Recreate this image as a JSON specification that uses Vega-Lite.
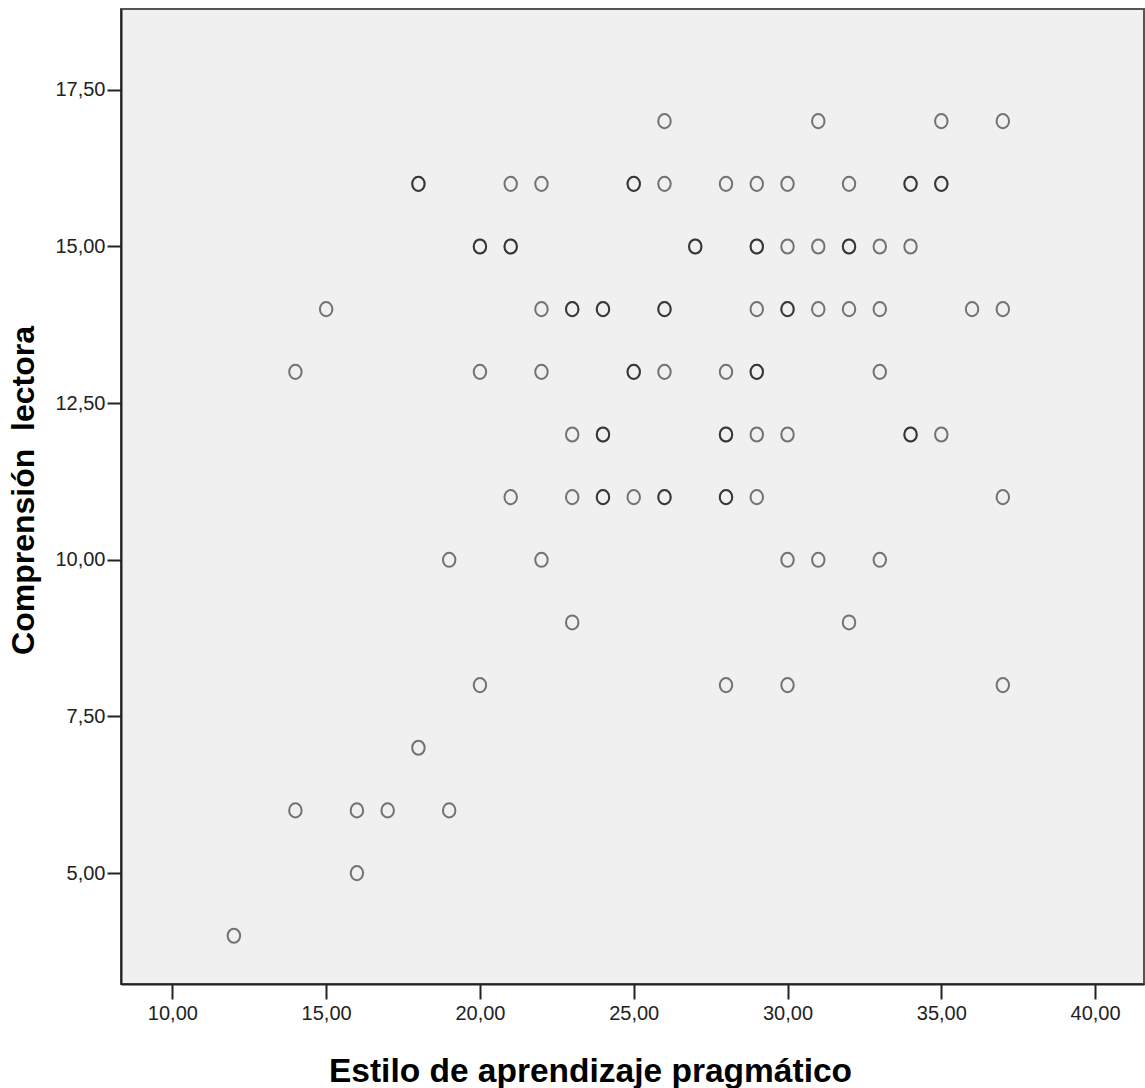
{
  "$schema": "https://vega.github.io/schema/vega-lite/v6.json",
  "autosize": {"type": "none"},
  "width": 1023,
  "height": 975,
  "padding": {"left": 121, "top": 9, "right": 1, "bottom": 104},
  "background": "#ffffff",
  "config": {
    "view": {"fill": "#F0F0F0", "stroke": "#555555", "strokeWidth": 2},
    "axis": {
      "labelFont": "Liberation Sans",
      "labelFontSize": 20,
      "labelColor": "#222222",
      "titleFont": "Liberation Sans",
      "titleFontWeight": "bold",
      "titleColor": "#000000",
      "domainColor": "#222222",
      "domainWidth": 2,
      "tickColor": "#222222",
      "tickWidth": 2,
      "grid": false
    }
  },
  "data": {
    "values": [
      {"x": 26, "y": 17}, {"x": 31, "y": 17}, {"x": 35, "y": 17}, {"x": 37, "y": 17},
      {"x": 18, "y": 16}, {"x": 18, "y": 16}, {"x": 21, "y": 16}, {"x": 22, "y": 16},
      {"x": 25, "y": 16}, {"x": 25, "y": 16}, {"x": 26, "y": 16}, {"x": 28, "y": 16},
      {"x": 29, "y": 16}, {"x": 30, "y": 16}, {"x": 32, "y": 16}, {"x": 34, "y": 16},
      {"x": 34, "y": 16}, {"x": 35, "y": 16}, {"x": 35, "y": 16},
      {"x": 20, "y": 15}, {"x": 20, "y": 15}, {"x": 21, "y": 15}, {"x": 21, "y": 15},
      {"x": 27, "y": 15}, {"x": 27, "y": 15}, {"x": 29, "y": 15}, {"x": 29, "y": 15},
      {"x": 30, "y": 15}, {"x": 31, "y": 15}, {"x": 32, "y": 15}, {"x": 32, "y": 15},
      {"x": 33, "y": 15}, {"x": 34, "y": 15},
      {"x": 15, "y": 14}, {"x": 22, "y": 14}, {"x": 23, "y": 14}, {"x": 23, "y": 14},
      {"x": 24, "y": 14}, {"x": 24, "y": 14}, {"x": 26, "y": 14}, {"x": 26, "y": 14},
      {"x": 29, "y": 14}, {"x": 30, "y": 14}, {"x": 30, "y": 14}, {"x": 31, "y": 14},
      {"x": 32, "y": 14}, {"x": 33, "y": 14}, {"x": 36, "y": 14}, {"x": 37, "y": 14},
      {"x": 14, "y": 13}, {"x": 20, "y": 13}, {"x": 22, "y": 13}, {"x": 25, "y": 13},
      {"x": 25, "y": 13}, {"x": 26, "y": 13}, {"x": 28, "y": 13}, {"x": 29, "y": 13},
      {"x": 29, "y": 13}, {"x": 33, "y": 13},
      {"x": 23, "y": 12}, {"x": 24, "y": 12}, {"x": 24, "y": 12}, {"x": 28, "y": 12},
      {"x": 28, "y": 12}, {"x": 29, "y": 12}, {"x": 30, "y": 12}, {"x": 34, "y": 12},
      {"x": 34, "y": 12}, {"x": 35, "y": 12},
      {"x": 21, "y": 11}, {"x": 23, "y": 11}, {"x": 24, "y": 11}, {"x": 24, "y": 11},
      {"x": 25, "y": 11}, {"x": 26, "y": 11}, {"x": 26, "y": 11}, {"x": 28, "y": 11},
      {"x": 28, "y": 11}, {"x": 29, "y": 11}, {"x": 37, "y": 11},
      {"x": 19, "y": 10}, {"x": 22, "y": 10}, {"x": 30, "y": 10}, {"x": 31, "y": 10},
      {"x": 33, "y": 10},
      {"x": 23, "y": 9}, {"x": 32, "y": 9},
      {"x": 20, "y": 8}, {"x": 28, "y": 8}, {"x": 30, "y": 8}, {"x": 37, "y": 8},
      {"x": 18, "y": 7},
      {"x": 14, "y": 6}, {"x": 16, "y": 6}, {"x": 17, "y": 6}, {"x": 19, "y": 6},
      {"x": 16, "y": 5},
      {"x": 12, "y": 4}
    ]
  },
  "mark": {
    "type": "point",
    "shape": "M0,-1A0.88,1 0 1,1 0,1A0.88,1 0 1,1 0,-1Z",
    "filled": false,
    "size": 200,
    "stroke": "#000000",
    "strokeWidth": 2,
    "strokeOpacity": 0.74,
    "clip": true
  },
  "encoding": {
    "x": {
      "field": "x",
      "type": "quantitative",
      "scale": {"domain": [8.33, 41.59], "nice": false, "zero": false},
      "axis": {
        "title": "Estilo de aprendizaje pragmático",
        "values": [10, 15, 20, 25, 30, 35, 40],
        "labelExpr": "replace(format(datum.value, '.2f'), '.', ',')",
        "tickSize": 15,
        "labelPadding": 4,
        "titleFontSize": 33.5,
        "titleX": 469,
        "titleY": 97,
        "titleAlign": "center",
        "titleBaseline": "alphabetic"
      }
    },
    "y": {
      "field": "y",
      "type": "quantitative",
      "scale": {"domain": [3.23, 18.79], "nice": false, "zero": false},
      "axis": {
        "title": "Comprensión\u00a0 lectora",
        "values": [5, 7.5, 10, 12.5, 15, 17.5],
        "labelExpr": "replace(format(datum.value, '.2f'), '.', ',')",
        "tickSize": 14,
        "labelPadding": 2,
        "titleFontSize": 32,
        "titleX": -88,
        "titleY": 481,
        "titleAngle": -90,
        "titleAlign": "center",
        "titleBaseline": "alphabetic"
      }
    }
  }
}
